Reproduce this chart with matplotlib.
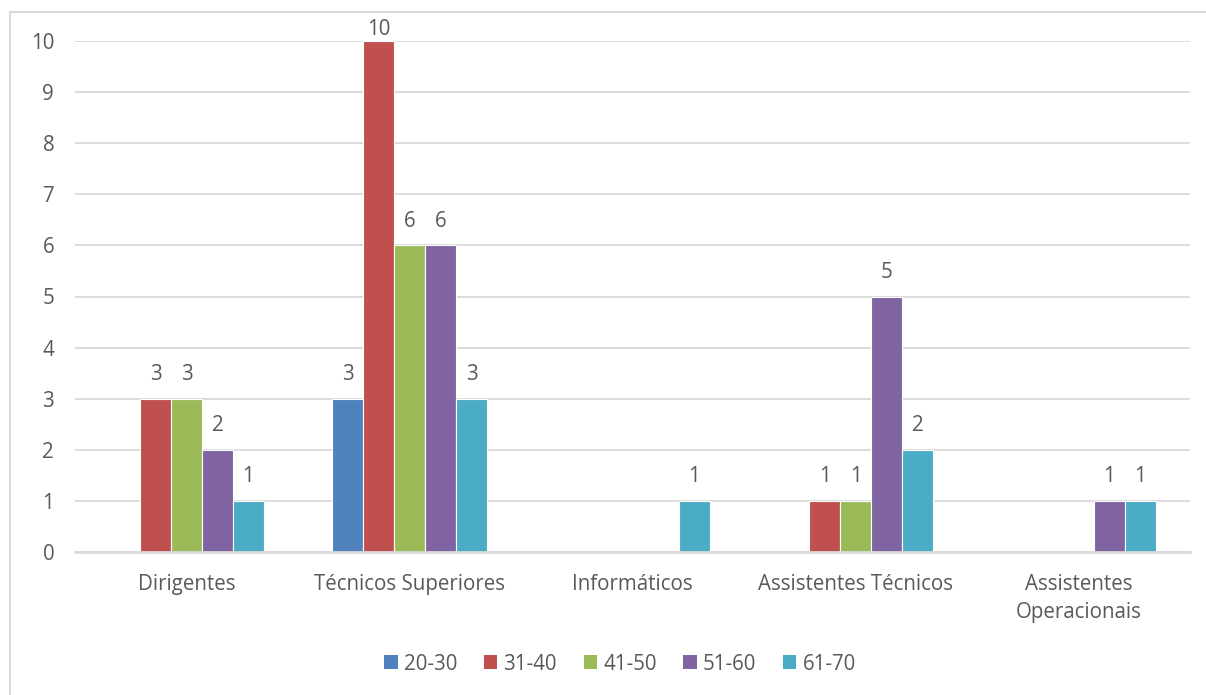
import matplotlib
matplotlib.use("Agg")
import matplotlib.pyplot as plt
from matplotlib.patches import Rectangle, Patch
import numpy as np

categories = ["Dirigentes", "Técnicos Superiores", "Informáticos",
              "Assistentes Técnicos", "Assistentes\nOperacionais"]
series_names = ["20-30", "31-40", "41-50", "51-60", "61-70"]
values = {
    "20-30": [None, 3, None, None, None],
    "31-40": [3, 10, None, 1, None],
    "41-50": [3, 6, None, 1, None],
    "51-60": [2, 6, None, 5, 1],
    "61-70": [1, 3, 1, 2, 1],
}
colors = ["#4F81BD", "#C0504D", "#9BBB59", "#8064A2", "#4BACC6"]

plt.rcParams['font.family'] = ['Open Sans', 'DejaVu Sans']
text_color = "#595959"
fs = 14.8

W, H = 1206, 695
fig = plt.figure(figsize=(W / 100, H / 100), dpi=100)
# chart border (right and bottom edges lie outside the picture)
fig.patches.append(Rectangle((10 / W, -0.5), 2.0, (H - 12) / H + 0.5, transform=fig.transFigure,
                             fill=False, edgecolor="#D9D9D9", linewidth=1.5))

ax = fig.add_axes([75 / W, (H - 552) / H, (1190 - 75) / W, (552 - 41) / H])
ax.set_xlim(-0.5, len(categories) - 0.5)
ax.set_ylim(0, 10)

bw = 0.139
n = len(series_names)
x = np.arange(len(categories))
for i, (name, col) in enumerate(zip(series_names, colors)):
    offs = (i - (n - 1) / 2) * bw
    for j, v in enumerate(values[name]):
        if v is None:
            continue
        ax.bar(x[j] + offs, v, width=bw, color=col, edgecolor="white", linewidth=0.8, zorder=3)
        off = 10 if v < 10 else 0.5
        ax.annotate(str(v), (x[j] + offs, v), xytext=(0, off), textcoords="offset points",
                    ha="center", va="bottom", fontsize=fs, color=text_color, zorder=4,
                    annotation_clip=False)

ax.set_yticks(range(0, 11))
ax.yaxis.grid(True, color="#D9D9D9", linewidth=1.3, zorder=0)
ax.set_axisbelow(True)
for s in ["top", "right", "left"]:
    ax.spines[s].set_visible(False)
ax.spines["bottom"].set_color("#D9D9D9")
ax.spines["bottom"].set_linewidth(2)
ax.spines["bottom"].set_zorder(5)
ax.tick_params(axis="both", length=0, labelsize=fs, labelcolor=text_color)
ax.tick_params(axis="y", pad=15)
ax.tick_params(axis="x", pad=16)
ax.set_xticks(x)
ax.set_xticklabels(categories, linespacing=1.45)
ax.set_facecolor("white")

handles = [Patch(facecolor=c, edgecolor="none") for c in colors]
fig.legend(handles, series_names, loc="center", bbox_to_anchor=(620 / W, (H - 664) / H),
           ncol=5, frameon=False, fontsize=fs, labelcolor=text_color,
           handlelength=0.65, handleheight=0.65, handletextpad=0.3, columnspacing=1.3)

fig.savefig("out.png", dpi=100, facecolor="white")
